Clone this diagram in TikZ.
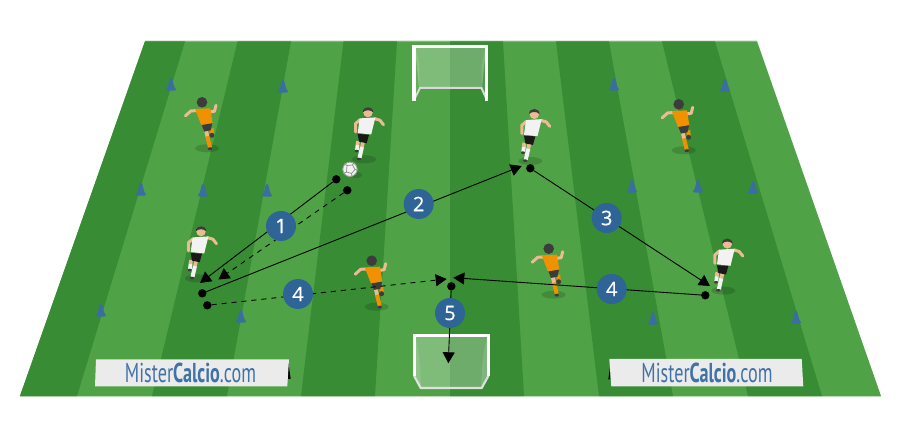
\documentclass[tikz,border=0pt]{standalone}
\usepackage{fontspec}
\usepackage{graphicx}
\usetikzlibrary{arrows.meta}
\newfontfamily\numfont[FakeBold=0.5]{Open Sans}
\newfontfamily\logofont{PT Sans}
\definecolor{fieldDark}{HTML}{378C34}
\definecolor{fieldLight}{HTML}{4FA346}
\definecolor{fieldEdge}{HTML}{CFE3CC}
\definecolor{coneBlue}{HTML}{3A6EA3}
\definecolor{badgeBlue}{HTML}{2E6496}
\definecolor{skin}{HTML}{EDBB93}
\definecolor{kitOrange}{HTML}{F29100}
\definecolor{darkHair}{HTML}{3C3C3C}
\definecolor{shirtWhite}{HTML}{F2F2F2}
\definecolor{bannerGrey}{HTML}{EBEBEB}
\definecolor{logoBlue}{HTML}{3F72A6}
\tikzset{
  dotnode/.style={circle,fill=black,inner sep=0pt,minimum size=8.4pt},
  badge/.style={circle,fill=badgeBlue,text=white,inner sep=0pt,minimum size=30pt,font=\numfont\fontsize{20}{20}\selectfont},
  pass/.style={line width=0.9pt,black,-{Triangle[length=11pt,width=12pt]}},
  runline/.style={pass,dash pattern=on 5pt off 5pt},
  limb/.style={line width=3pt,line cap=round,line join=round},
  pics/cone/.style={code={
    \fill[coneBlue] (-5.2,0) .. controls (-5.2,-2) and (-3.4,-1.6) .. (-3,-4) -- (-1.3,-11) .. controls (-0.7,-12.5) and (0.7,-12.5) .. (1.3,-11) -- (3,-4) .. controls (3.4,-1.6) and (5.2,-2) .. (5.2,0) .. controls (3,1) and (-3,1) .. (-5.2,0) -- cycle;
  }},
  pics/oplayer/.style={code={
    \fill[black,opacity=.15] (5,46) ellipse (12 and 4);
    \draw[limb,skin] (-5.3,8.3) -- (-11,8.6) -- (-16.5,13.5);
    \draw[limb,skin] (7.3,9.7) -- (12.5,9) -- (14,3);
    \draw[limb,line width=3.8pt,line cap=butt,skin] (4,28) -- (5.5,34.5);
    \draw[line width=4pt,kitOrange] (5.2,34) -- (8,45);
    \fill[darkHair] (8,46.5) ellipse (2.2 and 1.4);
    \draw[line width=4pt,kitOrange] (9.7,26) -- (9.9,32);
    \fill[darkHair] (9.9,33) circle (2.5);
    \fill[kitOrange] (-7,6.7) -- (8.3,6) -- (10.6,21) -- (-0.6,23) -- cycle;
    \fill[darkHair] (-0.3,22.7) -- (10.3,21) -- (8.7,28) -- (2.3,29.3) -- cycle;
    \fill[darkHair] (0,0) circle (5.3);
  }},
  pics/wplayer/.style={code={
    \fill[black,opacity=.15] (-4,48.3) ellipse (12 and 4);
    \draw[limb,skin] (7,7.7) -- (12,9.3) -- (15.5,13.7);
    \draw[limb,skin] (-8,8.7) -- (-12.5,12.7) -- (-12.3,21);
    \draw[line width=3.8pt,skin] (-10,30) -- (-10.5,34);
    \draw[line width=3.8pt,shirtWhite] (-10.5,34) -- (-11,39);
    \fill[darkHair] (-11.3,40) ellipse (2 and 1.3);
    \draw[line width=3.8pt,skin] (-5,31) -- (-6,36);
    \draw[line width=4pt,shirtWhite] (-6,36) -- (-8.5,47);
    \fill[darkHair] (-9,48) ellipse (2.2 and 1.3);
    \fill[shirtWhite] (-8.3,7.4) -- (7.4,6.4) -- (3.2,23.5) -- (-10.3,22) -- cycle;
    \fill[black!90] (-10.3,23) -- (1,23.7) -- (-1.3,32.2) -- (-9,30.7) -- cycle;
    \fill[skin] (0,1.5) circle (4.8);
    \fill[darkHair] (-5.2,1.5) .. controls (-5.5,-5.5) and (5.5,-5.5) .. (5.2,1.5) .. controls (3,-1.5) and (-3,-1.5) .. (-5.2,1.5) -- cycle;
  }},
}
\begin{document}
\begin{tikzpicture}[x=1pt,y=-1pt]
\useasboundingbox (0,0) rectangle (900,438);
\fill[white] (0,0) rectangle (900,438);
% field
\fill[fieldEdge] (145,40.5) -- (757,40.5) -- (881,397) -- (20,397) -- cycle;
\fill[fieldLight] (145,41.5) -- (757,41.5) -- (881,396) -- (20,396) -- cycle;
\foreach \ta/\tb/\ba/\bb in {145/185/20/77, 237.5/291/152/227, 343.5/397/301/375, 450/503/450/524, 556/609/599/673, 662/715/748/822}{
  \fill[fieldDark] (\ta,41.5) -- (\tb,41.5) -- (\bb,396) -- (\ba,396) -- cycle;
}
% cones
\foreach \cx/\cy in {171/90, 283/92, 141/195, 203/196, 267/196, 614/90, 725/91, 632/192, 698/192, 753/193, 101/316, 241/322, 653/324, 796/323}{
  \pic at (\cx,\cy) {cone};
}
% top goal
\fill[white,opacity=.28] (415,48) -- (486,48) -- (482,88) -- (419,88) -- cycle;
\fill[white,opacity=.12] (415,48) .. controls (420,60) and (420,75) .. (419,88) -- (415,98) -- cycle;
\fill[white,opacity=.12] (486,48) .. controls (481,60) and (481,75) .. (482,88) -- (486,98) -- cycle;
\draw[line width=2pt,white!85!black] (414.5,99) -- (420,88) -- (481.5,88) -- (486.5,99);
\draw[line width=3.4pt,white,line join=miter] (413.8,100.8) -- (413.8,46.7) -- (486.6,46.7) -- (486.6,100.8);
% bottom goal
\fill[white,opacity=.28] (415,336) -- (487.5,336) -- (487.5,375) -- (481,387) -- (421,387) -- (415,375) -- cycle;
\fill[white,opacity=.12] (415,336) .. controls (419,350) and (420,365) .. (421,387) -- (415,375) -- cycle;
\fill[white,opacity=.12] (487.5,336) .. controls (483,350) and (482,365) .. (481,387) -- (487.5,375) -- cycle;
\draw[line width=2.2pt,white!88!black,line join=round] (414.2,376) -- (420.7,388) -- (481.7,388) -- (488.3,376);
\draw[line width=2.8pt,white,line join=miter] (414.2,376) -- (414.2,335.4) -- (488.4,335.4) -- (488.4,376);
% banners
\fill[black] (288,360) -- (290.7,379) -- (288,379) -- cycle;
\fill[black] (610,367) -- (610,379.5) -- (608.3,379.5) -- cycle;
\fill[bannerGrey] (96,359.3) -- (289,359.3) -- (287.3,386.3) -- (95,386.3) -- cycle;
\fill[bannerGrey] (609.3,359) -- (801.7,359) -- (803.3,386.3) -- (611.3,386.3) -- cycle;
\node[inner sep=0pt,text=logoBlue] (logoA) at (190.5,373) {\resizebox{131pt}{19.5pt}{\logofont Mister\textbf{Calcio}.com}};
\node[inner sep=0pt,text=logoBlue] (logoB) at (707,373) {\resizebox{131pt}{19.5pt}{\logofont Mister\textbf{Calcio}.com}};
% players
\pic at (202,102.3) {oplayer};
\pic at (678.7,104.3) {oplayer};
\pic at (371.7,260.7) {oplayer};
\pic at (548.7,248.7) {oplayer};
\pic at (368,111) {wplayer};
\pic at (534.3,112.7) {wplayer};
\pic at (201,230) {wplayer};
\pic at (727.3,242.3) {wplayer};
% ball
\fill[black,opacity=.15] (356,175) ellipse (6 and 3);
\fill[white!95!black] (350,169.3) circle (7.4);
\draw[black!40,line width=.7pt] (350,169.3) circle (7.1);
\draw[black!45,line width=.7pt] (347,165.5) -- (352.5,165) -- (355,169.5) -- (351.5,173.5) -- (346.5,172) -- cycle;
\draw[black!45,line width=.7pt] (347,165.5) -- (344,163.5) (352.5,165) -- (354,162.5) (355,169.5) -- (357.2,170) (351.5,173.5) -- (352,176.5) (346.5,172) -- (343.5,173.5);
% dots and arrow ends
\node[dotnode] (d1a) at (336.3,179.3) {};
\node[dotnode] (d1b) at (347.3,190.3) {};
\node[dotnode] (d2) at (202.3,293.3) {};
\node[dotnode] (d4a) at (207.3,305.3) {};
\node[dotnode] (d3) at (530.3,168.3) {};
\node[dotnode] (d4b) at (705.3,295.3) {};
\node[dotnode] (d5) at (451.3,286.3) {};
\coordinate (t1a) at (200,283);
\coordinate (t1b) at (218.3,279.5);
\coordinate (t2) at (521.7,166);
\coordinate (t3) at (710,286);
\coordinate (t4a) at (446.7,279);
\coordinate (t4b) at (453.3,277.7);
\coordinate (t5) at (448.3,363.3);
\draw[pass] (d1a) -- (t1a);
\draw[runline] (d1b) -- (t1b);
\draw[pass] (d2) -- (t2);
\draw[pass] (d3) -- (t3);
\draw[runline] (d4a) -- (t4a);
\draw[pass] (d4b) -- (t4b);
\draw[pass] (d5) -- (t5);
% badges
\node[badge] (b1) at (281,226) {1};
\node[badge] (b2) at (418.7,204) {2};
\node[badge] (b3) at (606.7,218) {3};
\node[badge] (b4a) at (298,294) {4};
\node[badge] (b4b) at (611.7,289) {4};
\node[badge] (b5) at (450,313) {5};
\end{tikzpicture}
\end{document}
